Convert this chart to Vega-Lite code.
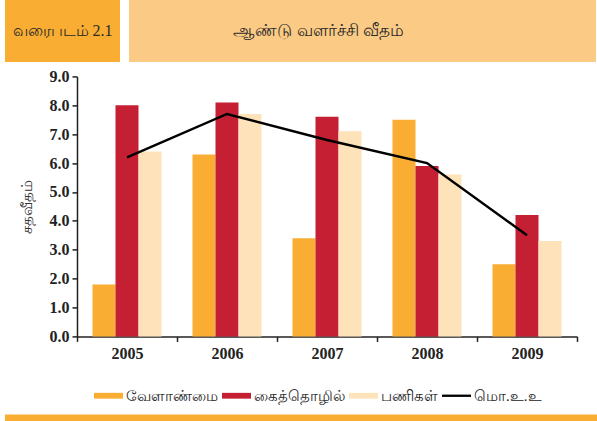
{
  "$schema": "https://vega.github.io/schema/vega-lite/v6.json",
  "padding": {"left": 5, "top": 0, "right": 0, "bottom": 0},
  "background": "white",
  "config": {
    "view": {"stroke": null}, "font": "Liberation Serif",
    "axisY": {"tickCount": 10, "tickMinStep": 1, "labelOverlap": false}
  },
  "datasets": {
    "sectors": [
      {"year": "2005", "series": "வேளாண்மை", "value": 1.8},
      {"year": "2005", "series": "கைத்தொழில்", "value": 8.0},
      {"year": "2005", "series": "பணிகள்", "value": 6.4},
      {"year": "2006", "series": "வேளாண்மை", "value": 6.3},
      {"year": "2006", "series": "கைத்தொழில்", "value": 8.1},
      {"year": "2006", "series": "பணிகள்", "value": 7.7},
      {"year": "2007", "series": "வேளாண்மை", "value": 3.4},
      {"year": "2007", "series": "கைத்தொழில்", "value": 7.6},
      {"year": "2007", "series": "பணிகள்", "value": 7.1},
      {"year": "2008", "series": "வேளாண்மை", "value": 7.5},
      {"year": "2008", "series": "கைத்தொழில்", "value": 5.9},
      {"year": "2008", "series": "பணிகள்", "value": 5.6},
      {"year": "2009", "series": "வேளாண்மை", "value": 2.5},
      {"year": "2009", "series": "கைத்தொழில்", "value": 4.2},
      {"year": "2009", "series": "பணிகள்", "value": 3.3}
    ],
    "gdp": [
      {"year": "2005", "series": "மொ.உ.உ", "value": 6.2},
      {"year": "2006", "series": "மொ.உ.உ", "value": 7.7},
      {"year": "2007", "series": "மொ.உ.உ", "value": 6.8},
      {"year": "2008", "series": "மொ.உ.உ", "value": 6.0},
      {"year": "2009", "series": "மொ.உ.உ", "value": 3.5}
    ]
  },
  "spacing": 6.4,
  "vconcat": [
    {
      "spacing": 9,
      "hconcat": [
        {
          "width": 115, "height": 62,
          "view": {"fill": "#F9AE33", "stroke": null},
          "data": {"values": [{}]},
          "mark": {"type": "text", "fontSize": 16, "color": "#2a2a2a"},
          "encoding": {"text": {"value": "வரைபடம் 2.1"}}
        },
        {
          "width": 467, "height": 62,
          "view": {"fill": "#FBCB85", "stroke": null},
          "data": {"values": [{}]},
          "mark": {"type": "text", "fontSize": 16.5, "color": "#2a2a2a", "dx": -44},
          "encoding": {"text": {"value": "ஆண்டு  வளர்ச்சி  வீதம்"}}
        }
      ]
    },
    {
      "spacing": 51,
      "vconcat": [
        {
          "spacing": 10,
          "hconcat": [
            {
              "width": 4, "height": 5,
              "data": {"values": [{}]},
              "mark": {"type": "text"},
              "encoding": {"text": {"value": ""}}
            },
            {
              "width": 500, "height": 260,
              "encoding": {
                "x": {
                  "field": "year", "type": "nominal",
                  "scale": {"paddingInner": 0, "paddingOuter": 0},
                  "axis": {
                    "title": null, "labelAngle": 0, "labelFontSize": 16, "labelFontWeight": "bold",
                    "labelColor": "#222", "labelPadding": 4, "tickBand": "extent", "tickSize": 5,
                    "tickWidth": 1.5, "tickColor": "#222", "domainColor": "#222", "domainWidth": 1.5
                  }
                },
                "y": {
                  "field": "value", "type": "quantitative",
                  "scale": {"domain": [0, 9], "nice": false},
                  "axis": {
                    "title": "சதவீதம்", "titleFontSize": 15, "titleFontWeight": "normal", "titleColor": "#333",
                    "titlePadding": 15, "format": ".1f",
                    "labelOverlap": false, "tickCount": 10,
                    "labelFontSize": 16, "labelFontWeight": "bold", "labelColor": "#222", "labelPadding": 3,
                    "grid": false, "tickSize": 5, "tickWidth": 1.5, "tickColor": "#222",
                    "domainColor": "#222", "domainWidth": 1.5
                  }
                },
                "color": {
                  "field": "series", "type": "nominal",
                  "scale": {
                    "domain": ["வேளாண்மை", "கைத்தொழில்", "பணிகள்", "மொ.உ.உ"],
                    "range": ["#F9AE33", "#C41F33", "#FEE2B9", "#000000"]
                  },
                  "legend": {
                    "title": null, "orient": "none", "legendX": 89, "legendY": 381, "direction": "horizontal",
                    "symbolSize": 841, "labelFontSize": 15, "labelColor": "#222", "labelOffset": 3,
                    "columnPadding": 4, "symbolStrokeWidth": 0,
                    "encode": {
                      "symbols": {
                        "update": {
                          "shape": {"signal": "datum.value === 'மொ.உ.உ' ? 'M-1,-0.08H1V0.08H-1Z' : 'M-1,-0.2H1V0.2H-1Z'"},
                          "fill": {"scale": "color", "field": "value"},
                          "stroke": {"value": "transparent"},
                          "opacity": {"value": 1}
                        }
                      }
                    }
                  }
                }
              },
              "layer": [
                {
                  "data": {"name": "sectors"},
                  "mark": {"type": "bar"},
                  "encoding": {
                    "xOffset": {
                      "field": "series", "type": "nominal",
                      "scale": {"domain": ["வேளாண்மை", "கைத்தொழில்", "பணிகள்"], "paddingInner": 0, "paddingOuter": 0.674}
                    }
                  }
                },
                {
                  "data": {"name": "gdp"},
                  "mark": {"type": "line", "strokeWidth": 2.5}
                }
              ]
            }
          ]
        },
        {
          "width": 592, "height": 9.3,
          "view": {"fill": "#F9AE33", "stroke": null},
          "data": {"values": [{}]},
          "mark": {"type": "text"},
          "encoding": {"text": {"value": ""}}
        }
      ]
    }
  ]
}
